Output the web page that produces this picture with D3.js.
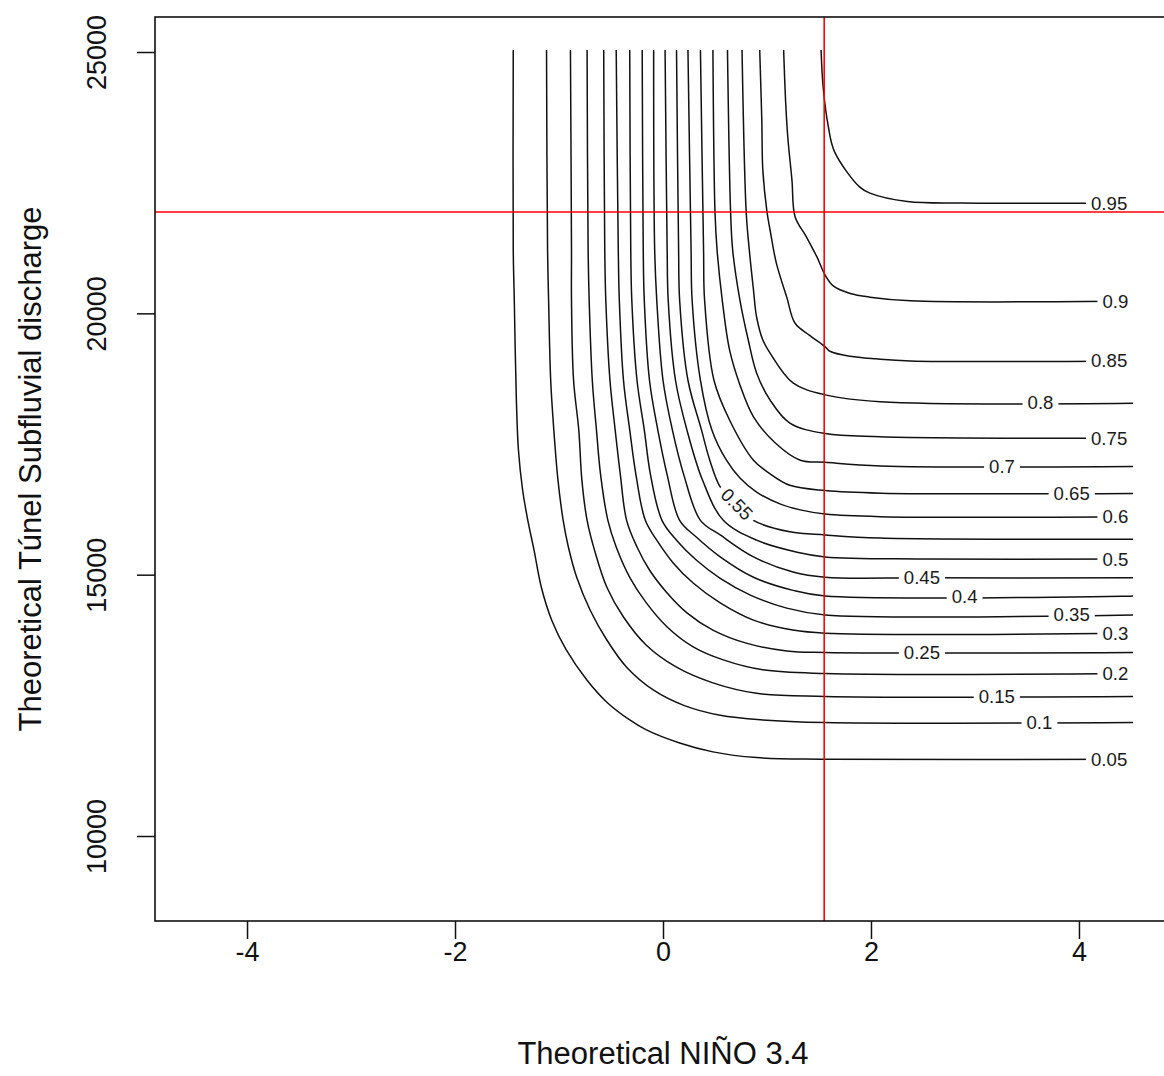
<!DOCTYPE html>
<html>
<head>
<meta charset="utf-8">
<script src="https://cdn.jsdelivr.net/npm/d3@7"></script>
<style>
  body { margin: 0; background: #fff; }
  svg { display: block; }
  text { font-family: "Liberation Sans", Arial, Helvetica, sans-serif; }
</style>
</head>
<body>
<svg id="chart" width="1164" height="1076"></svg>
<script>
// Contour levels of the joint distribution
const levels = [0.05, 0.1, 0.15, 0.2, 0.25, 0.3, 0.35, 0.4, 0.45, 0.5,
                0.55, 0.6, 0.65, 0.7, 0.75, 0.8, 0.85, 0.9, 0.95];

// Contour polylines: [NIÑO 3.4, discharge]
const c05 = [[-1.44,25040],[-1.44,21210],[-1.43,20250],[-1.41,18340],[-1.39,17380],[-1.35,16620],[-1.30,16040],[-1.24,15470],[-1.17,14760],[-1.07,14130],[-0.93,13560],[-0.73,12980],[-0.54,12560],[-0.32,12220],[-0.16,12030],[0.16,11780],[0.48,11610],[0.90,11500],[1.56,11470],[4.52,11470]];
const c10 = [[-1.12,25040],[-1.11,21210],[-1.10,20250],[-1.08,18720],[-1.05,17770],[-1.01,16810],[-0.96,16040],[-0.91,15530],[-0.83,14950],[-0.70,14320],[-0.54,13750],[-0.35,13230],[-0.09,12790],[0.20,12500],[0.55,12310],[0.96,12220],[1.56,12170],[4.52,12170]];
const c15 = [[-0.89,25040],[-0.88,21210],[-0.88,20250],[-0.86,18720],[-0.81,17770],[-0.78,16810],[-0.73,16040],[-0.65,15410],[-0.54,14760],[-0.38,14190],[-0.16,13650],[0.13,13230],[0.48,12930],[0.90,12730],[1.56,12670],[4.52,12670]];
const c20 = [[-0.73,25040],[-0.72,21210],[-0.71,20250],[-0.68,18720],[-0.64,17770],[-0.60,16910],[-0.53,16040],[-0.45,15530],[-0.32,14950],[-0.16,14460],[0.04,14000],[0.29,13620],[0.58,13370],[0.96,13180],[1.56,13110],[4.52,13110]];
const c25 = [[-0.57,25040],[-0.56,21210],[-0.55,20250],[-0.51,18720],[-0.46,17770],[-0.41,16910],[-0.35,16040],[-0.25,15530],[-0.13,15090],[0.04,14650],[0.23,14270],[0.48,13940],[0.80,13690],[1.19,13540],[1.56,13510],[4.52,13510]];
const c30 = [[-0.45,25040],[-0.43,21210],[-0.42,20250],[-0.38,18720],[-0.32,17770],[-0.26,16910],[-0.17,16040],[-0.06,15660],[0.10,15220],[0.29,14840],[0.55,14460],[0.87,14130],[1.25,13940],[1.56,13880],[4.52,13880]];
const c35 = [[-0.32,25040],[-0.31,21210],[-0.30,20250],[-0.25,18720],[-0.18,17770],[-0.12,16910],[-0.01,16040],[0.13,15660],[0.32,15280],[0.55,14930],[0.84,14610],[1.19,14360],[1.56,14230],[4.52,14230]];
const c40 = [[-0.20,25040],[-0.19,21210],[-0.18,20250],[-0.13,18720],[-0.05,17770],[0.04,16910],[0.16,16040],[0.32,15720],[0.55,15340],[0.87,14950],[1.25,14700],[1.56,14590],[4.52,14590]];
const c45 = [[-0.09,25040],[-0.08,21210],[-0.06,20250],[0.00,18720],[0.09,17770],[0.20,16910],[0.36,16040],[0.55,15760],[0.87,15340],[1.25,15050],[1.56,14950],[2.50,14940],[4.52,14940]];
const c50 = [[0.02,25040],[0.04,21210],[0.05,20250],[0.12,18720],[0.23,17770],[0.38,16810],[0.58,16040],[0.90,15660],[1.29,15430],[1.56,15340],[2.50,15300],[4.52,15300]];
const c55 = [[0.13,25040],[0.15,21210],[0.16,20250],[0.24,18720],[0.37,17770],[0.45,17190],[0.55,16680],[0.71,16350],[0.87,16040],[1.22,15820],[1.56,15760],[2.09,15700],[4.52,15680]];
const c60 = [[0.24,25040],[0.27,21210],[0.28,20250],[0.36,18720],[0.47,17770],[0.61,17190],[0.74,16850],[0.90,16580],[1.13,16350],[1.32,16240],[1.56,16160],[2.09,16110],[4.52,16110]];
const c65 = [[0.36,25040],[0.39,21210],[0.40,20250],[0.49,18720],[0.64,17960],[0.87,17190],[1.03,16930],[1.22,16710],[1.56,16610],[2.09,16560],[4.52,16555]];
const c70 = [[0.48,25040],[0.50,21940],[0.52,21210],[0.57,20250],[0.64,19300],[0.74,18630],[0.87,18020],[1.08,17520],[1.32,17190],[1.56,17150],[2.09,17080],[4.52,17070]];
const c75 = [[0.62,25040],[0.65,21940],[0.67,21210],[0.74,20250],[0.82,19490],[0.90,18860],[1.03,18340],[1.22,17900],[1.56,17700],[2.09,17640],[4.52,17610]];
const c80 = [[0.76,25040],[0.80,21940],[0.83,21210],[0.87,20450],[0.90,19930],[0.96,19490],[1.03,19240],[1.25,18670],[1.56,18440],[2.09,18310],[4.52,18280]];
const c85 = [[0.93,25040],[0.95,23700],[0.96,22740],[1.00,21940],[1.03,21590],[1.09,20960],[1.19,20310],[1.27,19810],[1.41,19580],[1.56,19360],[1.61,19270],[1.80,19180],[2.05,19130],[2.38,19090],[4.52,19090]];
const c90 = [[1.16,25040],[1.18,24020],[1.20,23370],[1.24,22550],[1.27,21850],[1.38,21460],[1.48,21080],[1.56,20730],[1.64,20520],[1.80,20380],[1.99,20310],[2.38,20240],[4.52,20235]];
const c95 = [[1.52,25040],[1.54,24330],[1.59,23570],[1.65,23090],[1.89,22420],[1.99,22300],[2.35,22140],[2.88,22110],[4.52,22110]];

const contourLines = [c05, c10, c15, c20, c25, c30, c35, c40, c45, c50,
                      c55, c60, c65, c70, c75, c80, c85, c90, c95];

// NIÑO 3.4 value where each level's label sits on its line
const labelX = [4.29, 3.62, 3.21, 4.35, 2.49, 4.35, 3.93, 2.90, 2.49, 4.35,
                0.71, 4.35, 3.93, 3.26, 4.29, 3.63, 4.29, 4.35, 4.29];

// Reference values marked by the red cross-hair
const refNino = 1.55;
const refDischarge = 21940;

const xTicks = [-4, -2, 0, 2, 4];
const yTicks = [10000, 15000, 20000, 25000];

const xTitle = "Theoretical NIÑO 3.4";
const yTitle = "Theoretical Túnel Subfluvial discharge";

// ---- layout ----
const W = 1164, H = 1076;
const plot = { left: 155, top: 17, right: 1171, bottom: 921 };

const svg = d3.select("#chart");
const x = d3.scaleLinear([-4.885, 4.885], [plot.left, plot.right]);
const y = d3.scaleLinear([8374, 25670], [plot.bottom, plot.top]);

const line = d3.line()
  .x(d => x(d[0]))
  .y(d => y(d[1]))
  .curve(d3.curveCatmullRom.alpha(0.5));

// locate a label on a polyline at a given x value, with its local direction
function pointAt(pts, xv) {
  for (let k = pts.length - 2; k >= 0; k--) {
    const a = pts[k], b = pts[k + 1];
    if (a[0] === b[0]) continue;
    if (xv >= Math.min(a[0], b[0]) && xv <= Math.max(a[0], b[0])) {
      const t = (xv - a[0]) / (b[0] - a[0]);
      const yv = a[1] + t * (b[1] - a[1]);
      let p0 = a, p1 = b;
      if (t < 1e-6 && k > 0) { p0 = pts[k - 1]; p1 = b; }
      let ang = Math.atan2(y(p1[1]) - y(p0[1]), x(p1[0]) - x(p0[0])) * 180 / Math.PI;
      if (Math.abs(ang) < 3) ang = 0;
      return { px: x(xv), py: y(yv), angle: ang };
    }
  }
  return { px: x(xv), py: y(pts[pts.length - 1][1]), angle: 0 };
}

const defs = svg.append("defs");
const gLines = svg.append("g").attr("class", "contours");
const gLabels = svg.append("g").attr("class", "contour-labels");

contourLines.forEach((pts, i) => {
  const pos = pointAt(pts, labelX[i]);
  const tf = `translate(${pos.px},${pos.py}) rotate(${pos.angle})`;

  const label = gLabels.append("text")
    .text(String(levels[i]))
    .attr("font-size", 18.6)
    .attr("fill", "#1a1a1a")
    .attr("text-anchor", "middle")
    .attr("dominant-baseline", "central")
    .attr("transform", tf);

  const w = label.node().getComputedTextLength();
  let g0 = -w / 2 - 5, g1 = w / 2 + 5;
  const endPx = x(pts[pts.length - 1][0]);
  if (pos.angle === 0 && endPx - (pos.px + g1) < 10) g1 = endPx - pos.px + 3;

  // break the line where its label sits
  const mask = defs.append("mask")
    .attr("id", `gap${i}`)
    .attr("maskUnits", "userSpaceOnUse")
    .attr("x", 0).attr("y", 0).attr("width", W).attr("height", H);
  mask.append("rect").attr("width", W).attr("height", H).attr("fill", "#fff");
  mask.append("rect")
    .attr("x", g0).attr("y", -8)
    .attr("width", g1 - g0).attr("height", 16)
    .attr("fill", "#000")
    .attr("transform", tf);

  gLines.append("path")
    .attr("d", line(pts))
    .attr("fill", "none")
    .attr("stroke", "#111")
    .attr("stroke-width", 1.5)
    .attr("stroke-linejoin", "round")
    .attr("mask", `url(#gap${i})`);
});

// red cross-hair
svg.append("line")
  .attr("x1", x(refNino)).attr("x2", x(refNino))
  .attr("y1", plot.top).attr("y2", plot.bottom)
  .attr("stroke", "#ff0000").attr("stroke-width", 1.6);
svg.append("line")
  .attr("x1", plot.left).attr("x2", plot.right)
  .attr("y1", y(refDischarge)).attr("y2", y(refDischarge))
  .attr("stroke", "#ff0000").attr("stroke-width", 1.6);

// plot frame
svg.append("rect")
  .attr("x", plot.left).attr("y", plot.top)
  .attr("width", plot.right - plot.left).attr("height", plot.bottom - plot.top)
  .attr("fill", "none").attr("stroke", "#111").attr("stroke-width", 1.6);

// axes
const gx = svg.append("g")
  .attr("transform", `translate(0,${plot.bottom})`)
  .call(d3.axisBottom(x).tickValues(xTicks).tickSize(18).tickFormat(d => String(d)));
gx.select(".domain").remove();
gx.selectAll(".tick line").attr("stroke", "#111").attr("stroke-width", 1.5);
gx.selectAll(".tick text")
  .attr("fill", "#111")
  .attr("font-size", 27)
  .attr("font-family", null)
  .attr("y", 31).attr("dy", null)
  .attr("dominant-baseline", "central");

const gy = svg.append("g")
  .attr("transform", `translate(${plot.left},0)`)
  .call(d3.axisLeft(y).tickValues(yTicks).tickSize(18).tickFormat(d => String(d)));
gy.select(".domain").remove();
gy.selectAll(".tick line").attr("stroke", "#111").attr("stroke-width", 1.5);
gy.selectAll(".tick text")
  .attr("fill", "#111")
  .attr("font-size", 27)
  .attr("font-family", null)
  .attr("x", 0).attr("y", -58).attr("dy", null)
  .attr("text-anchor", "middle")
  .attr("dominant-baseline", "central")
  .attr("transform", "rotate(-90)");

// axis titles
svg.append("text")
  .attr("x", (plot.left + plot.right) / 2)
  .attr("y", 1053)
  .attr("text-anchor", "middle")
  .attr("dominant-baseline", "central")
  .attr("font-size", 31)
  .attr("fill", "#111")
  .text(xTitle);

svg.append("text")
  .attr("transform", `translate(30,${(plot.top + plot.bottom) / 2}) rotate(-90)`)
  .attr("text-anchor", "middle")
  .attr("dominant-baseline", "central")
  .attr("font-size", 31)
  .attr("fill", "#111")
  .text(yTitle);
</script>
</body>
</html>
